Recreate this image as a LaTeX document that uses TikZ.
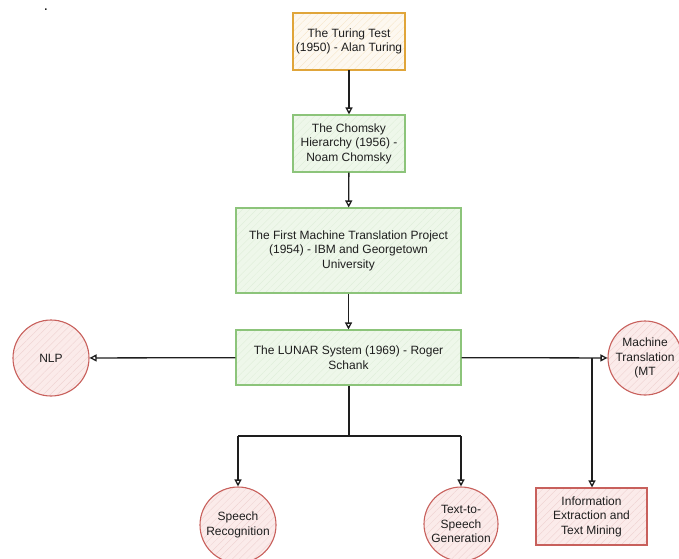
\documentclass[tikz,border=0pt]{standalone}
\usepackage{fontspec}
\setmainfont{Liberation Sans}
\usetikzlibrary{arrows.meta,patterns.meta,shapes.geometric}
\definecolor{orangeb}{HTML}{E0A53A}
\definecolor{orangef}{HTML}{FDF8F0}
\definecolor{greenb}{HTML}{8CC47A}
\definecolor{greenf}{HTML}{EEF7EA}
\definecolor{redb}{HTML}{C8605C}
\definecolor{redf}{HTML}{FBEBEA}
\definecolor{ink}{HTML}{1E1E1E}
\tikzset{
  x=1pt,y=-1pt,
  txt/.style={font=\fontsize{12}{14.5}\selectfont,text=ink},
  hatch/.style={pattern={Lines[angle=45,distance=5pt,line width=0.3pt]},pattern color=#1},
  basebox/.style={rectangle,draw,line width=1.1pt,align=center,txt,inner sep=2pt},
  orangebox/.style={basebox,draw=orangeb,preaction={fill=orangef},hatch=orangeb!30},
  greenbox/.style={basebox,draw=greenb,preaction={fill=greenf},hatch=greenb!30},
  redbox/.style={basebox,draw=redb,preaction={fill=redf},hatch=redb!30},
  redcirc/.style={circle,draw=redb,line width=1.1pt,preaction={fill=redf},hatch=redb!30,align=center,txt,inner sep=0pt},
  conn/.style={draw=ink,line width=1.3pt,-{Triangle[open,length=7pt,width=7pt]}},
  plain/.style={draw=ink,line width=1.3pt}
}
\begin{document}
\begin{tikzpicture}
\useasboundingbox (0,0) rectangle (679,558);
\node[txt,font=\bfseries\fontsize{11}{11}\selectfont,anchor=base,inner sep=0pt] (dot) at (46,10) {.};
\node[orangebox,minimum width=112pt,minimum height=57pt] (turing) at (349,41.5) {The Turing Test\\(1950) - Alan Turing};
\node[greenbox,minimum width=112pt,minimum height=57pt] (chomsky) at (349,143.5) {The Chomsky\\Hierarchy (1956) -\\Noam Chomsky};
\node[greenbox,minimum width=225pt,minimum height=85pt] (firstmt) at (348.5,250.5) {The First Machine Translation Project\\(1954) - IBM and Georgetown\\University};
\node[greenbox,minimum width=225pt,minimum height=55pt] (lunar) at (348.5,357.5) {The LUNAR System (1969) - Roger\\Schank};
\node[redcirc,minimum size=76pt] (nlp) at (51,358) {NLP};
\node[redcirc,minimum size=74pt] (mt) at (645,358) {Machine\\Translation\\(MT};
\node[redcirc,minimum size=76pt] (speech) at (238,525) {Speech\\Recognition};
\node[redcirc,minimum size=74pt] (tts) at (461,524) {Text-to-\\Speech\\Generation};
\node[redbox,minimum width=111pt,minimum height=57pt] (info) at (591.5,516.5) {Information\\Extraction and\\Text Mining};
\coordinate (split) at (349,436);
\coordinate (spl) at (238,436);
\coordinate (spr) at (461,436);
\coordinate (br) at (592,358);
\draw[conn] (turing) -- (chomsky);
\draw[conn] (chomsky) -- (firstmt);
\draw[conn] (firstmt) -- (lunar);
\draw[conn] (lunar) -- (nlp);
\draw[conn] (lunar) -- (mt);
\draw[conn] (br) -- (br |- info.north);
\draw[plain] (lunar.south -| split) -- (split);
\draw[plain] (spl) -- (spr);
\draw[conn] (spl) -- (speech);
\draw[conn] (spr) -- (tts);
\end{tikzpicture}
\end{document}
